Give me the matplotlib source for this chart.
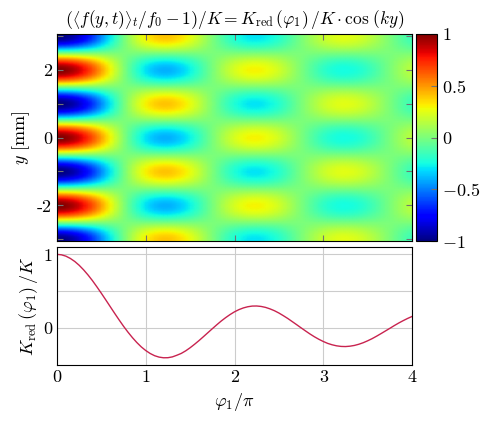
import numpy as np
import matplotlib
matplotlib.use("Agg")
from matplotlib import pyplot as plt

plt.rcParams['font.family'] = 'serif'
plt.rcParams['font.serif'] = ['cmr10']
plt.rcParams['mathtext.fontset'] = 'cm'
plt.rcParams['axes.unicode_minus'] = False

# phi_1 / pi, step 0.05
phi = [round(0.05 * i, 2) for i in range(81)]
# K_red(phi_1)/K
k_red = [1.000, 0.994, 0.976, 0.945, 0.904, 0.852, 0.790, 0.720, 0.643, 0.559,
         0.472, 0.382, 0.291, 0.200, 0.111, 0.025, -0.055, -0.129, -0.196, -0.255,
         -0.304, -0.344, -0.374, -0.393, -0.402, -0.401, -0.390, -0.368, -0.343, -0.308,
         -0.266, -0.219, -0.169, -0.116, -0.062, -0.008, 0.045, 0.096, 0.142, 0.184,
         0.221, 0.251, 0.274, 0.290, 0.299, 0.300, 0.294, 0.281, 0.261, 0.236,
         0.205, 0.169, 0.131, 0.089, 0.047, 0.004, -0.038, -0.079, -0.117, -0.151,
         -0.181, -0.207, -0.226, -0.240, -0.248, -0.250, -0.245, -0.235, -0.219, -0.198,
         -0.172, -0.143, -0.110, -0.075, -0.039, -0.003, 0.034, 0.069, 0.101, 0.131,
         0.158]
period_mm = 2.0  # red stripes at y = -2, 0, 2

y = np.linspace(-3.05, 3.05, 245)
field = np.outer(np.cos(2 * np.pi * y / period_mm), np.array(k_red))

fig = plt.figure(figsize=(4.94, 4.22), dpi=100)
W, H = 494, 422
ax1 = fig.add_axes([57 / W, 1 - 241 / H, 355 / W, 207 / H])
cax = fig.add_axes([416 / W, 1 - 241 / H, 21 / W, 207 / H])
ax2 = fig.add_axes([57 / W, 1 - 365 / H, 355 / W, 118 / H])

pc = ax1.pcolormesh(phi, y, field, cmap='jet', vmin=-1, vmax=1,
                    shading='gouraud', rasterized=True)
ax1.set_xlim(0, 4)
ax1.set_ylim(-3.05, 3.05)
ax1.set_xticks([0, 1, 2, 3, 4])
ax1.set_xticklabels([])
ax1.set_yticks([-3, -2, -1, 0, 1, 2, 3])
ax1.set_yticklabels(['', '-2', '', '0', '', '2', ''])
ax1.tick_params(direction='in', top=True, right=True, color='0.45',
                labelsize=13, length=4)
ax1.set_ylabel(r'$y$ [mm]', fontsize=13, labelpad=4)
ax1.set_title(r'$\left(\left\langle f(y,t)\right\rangle_t/f_0-1\right)/K'
              r'=K_{\mathrm{red}}\,(\varphi_1)\,/K\cdot\cos\,(ky)$',
              fontsize=12.5, pad=7)

cb = fig.colorbar(pc, cax=cax)
cb.set_ticks([-1, -0.5, 0, 0.5, 1])
cb.set_ticklabels([r'$-1$', r'$-0.5$', r'$0$', r'$0.5$', r'$1$'])
cb.ax.tick_params(labelsize=13, direction='in', color='0.45', length=4)
cb.outline.set_linewidth(0.8)

ax2.plot(phi, k_red, color='#c8234f', lw=1.0)
ax2.set_xlim(0, 4)
ax2.set_ylim(-0.5, 1.1)
ax2.set_xticks([0, 1, 2, 3, 4])
ax2.set_yticks([0, 1])
ax2.set_yticks([0.5], minor=True)
ax2.grid(True, which='both', color='0.8', lw=0.8)
ax2.set_axisbelow(True)
ax2.tick_params(which='both', direction='in', top=True, right=True,
                labelsize=13, length=0)
ax2.set_xlabel(r'$\varphi_1/\pi$', fontsize=13)
ax2.set_ylabel(r'$K_{\mathrm{red}}\,(\varphi_1)\,/K$', fontsize=13, labelpad=2)

fig.savefig('out.png', dpi=100)
